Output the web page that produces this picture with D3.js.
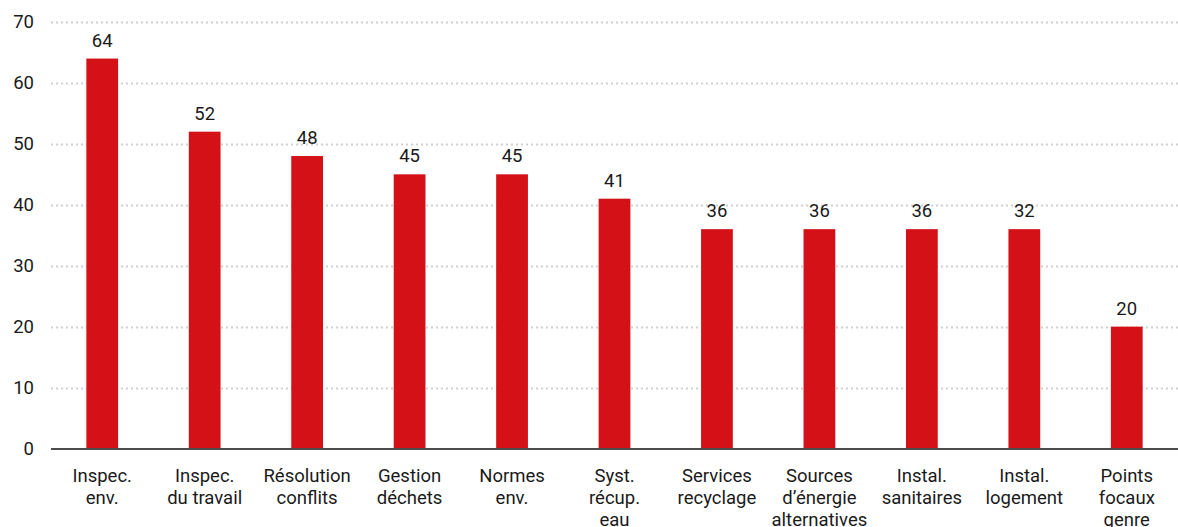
<!DOCTYPE html>
<html>
<head>
<meta charset="utf-8">
<script src="https://cdn.jsdelivr.net/npm/d3@7"></script>
<style>
  body { margin: 0; background: #fff; }
  svg text { font-family: Roboto, "Liberation Sans", sans-serif; fill: #1a1a1a; }
</style>
</head>
<body>
<div id="chart"></div>
<script>
const categories = [
  ["Inspec.", "env."],
  ["Inspec.", "du travail"],
  ["Résolution", "conflits"],
  ["Gestion", "déchets"],
  ["Normes", "env."],
  ["Syst.", "récup.", "eau"],
  ["Services", "recyclage"],
  ["Sources", "d’énergie", "alternatives"],
  ["Instal.", "sanitaires"],
  ["Instal.", "logement"],
  ["Points", "focaux", "genre"]
];
// bar heights as drawn
const values = [64, 52, 48, 45, 45, 41, 36, 36, 36, 36, 20];
// labels as printed above bars
const valueLabels = ["64", "52", "48", "45", "45", "41", "36", "36", "36", "32", "20"];
const yTicks = [0, 10, 20, 30, 40, 50, 60, 70];

const width = 1178;
const height = 527;
const margin = {top: 22, right: 0, bottom: 78, left: 51};
const fontSize = 18.5;

const svg = d3.select('#chart')
  .append('svg')
  .attr('width', width)
  .attr('height', height);

const x = d3.scaleBand()
  .domain(d3.range(categories.length))
  .range([margin.left, width - margin.right])
  .paddingInner(0.69)
  .paddingOuter(0.345);

const y = d3.scaleLinear()
  .domain([0, 70])
  .range([height - margin.bottom - 0.5, margin.top]);

// tick labels
const yAxis = svg.append('g')
  .call(d3.axisLeft(y).tickValues(yTicks).tickSize(0).tickPadding(0))
  .attr('transform', `translate(${margin.left},0)`);
yAxis.select('.domain').remove();
yAxis.selectAll('.tick text')
  .attr('x', -17)
  .attr('font-size', fontSize)
  .style('font-family', null);

// dotted grid lines
svg.append('g')
  .selectAll('line')
  .data(yTicks.filter(d => d > 0))
  .join('line')
  .attr('x1', margin.left)
  .attr('x2', width)
  .attr('y1', d => Math.round(y(d)) + 0.5)
  .attr('y2', d => Math.round(y(d)) + 0.5)
  .attr('stroke', '#cfcfcf')
  .attr('stroke-width', 2)
  .attr('stroke-dasharray', '2,3');

// bars
svg.append('g')
  .selectAll('rect')
  .data(values)
  .join('rect')
  .attr('x', (d, i) => x(i))
  .attr('width', x.bandwidth())
  .attr('y', d => y(d))
  .attr('height', d => y(0) - y(d))
  .attr('fill', '#d41116');

// value labels
svg.append('g')
  .selectAll('text')
  .data(values)
  .join('text')
  .attr('x', (d, i) => x(i) + x.bandwidth() / 2)
  .attr('y', d => y(d) - 12)
  .attr('text-anchor', 'middle')
  .attr('font-size', fontSize)
  .text((d, i) => valueLabels[i]);

// baseline
svg.append('line')
  .attr('x1', margin.left)
  .attr('x2', width)
  .attr('y1', y(0) + 0.5)
  .attr('y2', y(0) + 0.5)
  .attr('stroke', '#4d4d4d')
  .attr('stroke-width', 2);

// category labels
const cat = svg.append('g')
  .selectAll('text')
  .data(categories)
  .join('text')
  .attr('text-anchor', 'middle')
  .attr('font-size', fontSize)
  .attr('x', (d, i) => x(i) + x.bandwidth() / 2)
  .attr('y', y(0) + 33);

cat.selectAll('tspan')
  .data(d => d)
  .join('tspan')
  .attr('x', function () { return d3.select(this.parentNode).attr('x'); })
  .attr('dy', (d, i) => i === 0 ? 0 : 22)
  .text(d => d);
</script>
</body>
</html>
